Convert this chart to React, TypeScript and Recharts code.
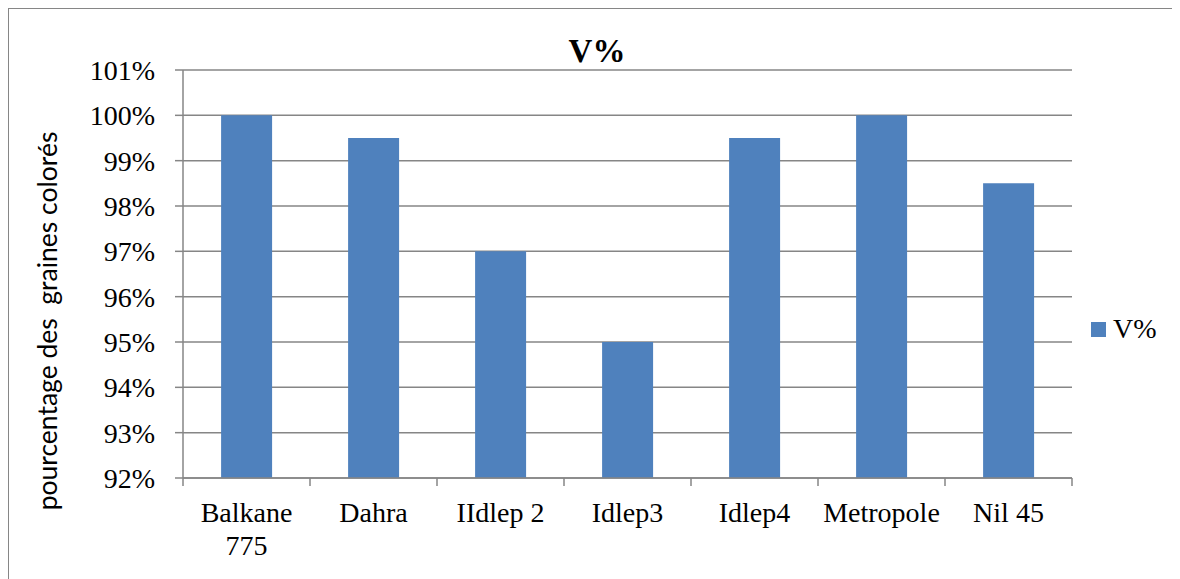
import { BarChart, Bar, XAxis, YAxis, CartesianGrid, Legend } from "recharts";

// germination share per variety
const varieties = ["Balkane 775", "Dahra", "IIdlep 2", "Idlep3", "Idlep4", "Metropole", "Nil 45"];
const vPercent = [100, 99.5, 97, 95, 99.5, 100, 98.5];
const percentTicks = [92, 93, 94, 95, 96, 97, 98, 99, 100, 101];
const seriesName = "V%";
const chartTitle = "V%";
const yTitle = "pourcentage des  graines colorés";

const rows = varieties.map((name, i) => ({ name, v: vPercent[i] }));

const BAR = "#4F81BD";
const LINE = "#868686";
const SERIF = "'Liberation Serif', 'Times New Roman', serif";
const TICK_FONT = 28;
const LEGEND_W = 70;

let ctx: CanvasRenderingContext2D | null = null;
const measure = (s: string) => {
  if (!ctx) ctx = document.createElement("canvas").getContext("2d");
  if (!ctx) return s.length * TICK_FONT * 0.5;
  ctx.font = `${TICK_FONT}px ${SERIF}`;
  return ctx.measureText(s).width;
};

// greedy word wrap within the category band
const wrap = (label: string, maxW: number) => {
  const lines: string[] = [];
  let cur = "";
  for (const w of label.split(" ")) {
    const next = cur ? `${cur} ${w}` : w;
    if (cur && measure(next) > maxW) {
      lines.push(cur);
      cur = w;
    } else cur = next;
  }
  if (cur) lines.push(cur);
  return lines;
};

// category label plus the small marks on the category boundaries
const CategoryTick = (props: any) => {
  const { x, y, payload, index, visibleTicksCount } = props;
  const half = payload.offset ?? 0;
  const last = index === visibleTicksCount - 1;
  const lines = wrap(String(payload.value), half * 2 - 4);
  return (
    <g>
      <line x1={x - half} x2={x - half} y1={y} y2={y + 8} stroke={LINE} strokeWidth={1.5} />
      {last && <line x1={x + half} x2={x + half} y1={y} y2={y + 8} stroke={LINE} strokeWidth={1.5} />}
      <text x={x} y={y + 44} textAnchor="middle" style={{ fontFamily: SERIF, fontSize: TICK_FONT, fill: "#000" }}>
        {lines.map((l, i) => (
          <tspan key={i} x={x} dy={i === 0 ? 0 : 33}>
            {l}
          </tspan>
        ))}
      </text>
    </g>
  );
};

const YTitle = (props: any) => {
  const { viewBox } = props;
  const cx = viewBox.x + 48;
  const cy = viewBox.y + viewBox.height / 2 + 47;
  return (
    <text
      x={cx}
      y={cy}
      transform={`rotate(-90, ${cx}, ${cy})`}
      textAnchor="middle"
      style={{ fontFamily: "Lato, 'Open Sans', sans-serif", fontSize: 26.5, fill: "#000", whiteSpace: "pre" }}
    >
      {yTitle}
    </text>
  );
};

const LegendBox = () => (
  <div style={{ display: "flex", alignItems: "center", width: LEGEND_W }}>
    <span style={{ width: 15, height: 15, background: BAR, marginRight: 7, display: "inline-block", flex: "none" }} />
    <span style={{ fontFamily: SERIF, fontSize: TICK_FONT, lineHeight: 1, color: "#000" }}>{seriesName}</span>
  </div>
);

export default function App() {
  return (
    <div
      style={{
        width: 1171,
        height: 570,
        borderTop: `1px solid ${LINE}`,
        borderLeft: `1px solid ${LINE}`,
        background: "#fff",
      }}
    >
      <BarChart
        width={1171}
        height={570}
        data={rows}
        margin={{ top: 61, right: 108 - LEGEND_W, left: 0, bottom: 1 }}
        barCategoryGap="30%"
      >
        <text
          x={588}
          y={53}
          textAnchor="middle"
          style={{ fontFamily: SERIF, fontSize: 33, fontWeight: 700, fill: "#000" }}
        >
          {chartTitle}
        </text>
        <CartesianGrid vertical={false} stroke={LINE} strokeWidth={1.5} />
        <XAxis
          dataKey="name"
          height={100}
          axisLine={{ stroke: LINE, strokeWidth: 1.5 }}
          tickLine={false}
          tickSize={0}
          tickMargin={0}
          tick={<CategoryTick />}
          interval={0}
        />
        <YAxis
          width={174}
          domain={[92, 101]}
          ticks={percentTicks}
          tickFormatter={(v: number) => `${v}%`}
          axisLine={{ stroke: LINE, strokeWidth: 1.5 }}
          tickLine={{ stroke: LINE, strokeWidth: 1.5 }}
          tickSize={8}
          tickMargin={20}
          tick={{ fontFamily: SERIF, fontSize: TICK_FONT, fill: "#000" }}
          allowDataOverflow
          label={{ content: <YTitle /> }}
        />
        <Legend
          layout="vertical"
          align="right"
          verticalAlign="middle"
          content={<LegendBox />}
          wrapperStyle={{ left: 1082, top: 306, width: LEGEND_W }}
        />
        <Bar dataKey="v" name={seriesName} fill={BAR} isAnimationActive={false} />
      </BarChart>
    </div>
  );
}
